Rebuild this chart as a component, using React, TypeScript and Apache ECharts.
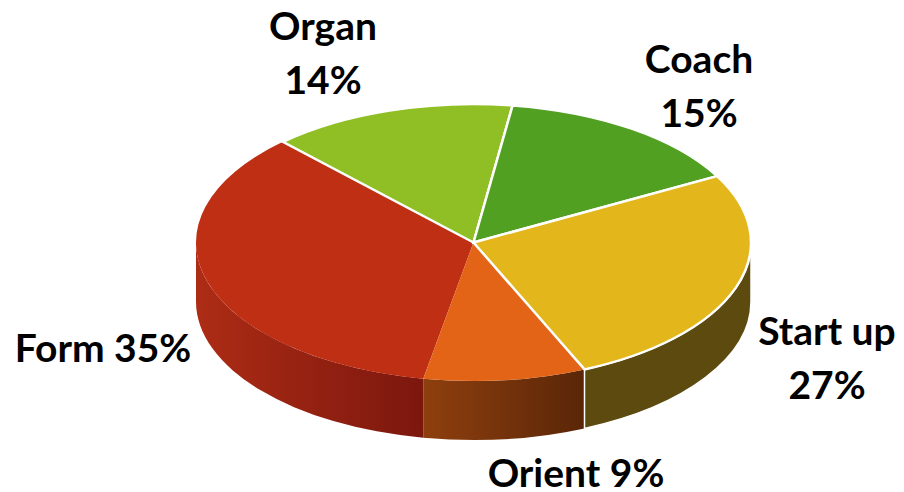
import React, { useEffect, useRef } from "react";
import * as echarts from "echarts";

// Clockwise from the Coach slice
const categories = ["Coach", "Start up", "Orient", "Form", "Organ"];
// Slice shares as measured on the picture (the printed labels are rounded differently)
const sliceShares = [14.8, 26.4, 9.45, 35.05, 14.3];
const labelPercents = [15, 27, 9, 35, 14];
const topColors = ["#52A022", "#E3B71C", "#E36417", "#BF2F14", "#8FBF24"];
const sideColors = [
  ["#3A7018", "#3A7018"],
  ["#5C4A0E", "#5C4A0E"],
  ["#8F3F0E", "#5A2608"],
  ["#AD2C15", "#7C170E"],
  ["#64851A", "#64851A"],
];
const outlined = [true, true, false, false, true];
const drawOrder = [3, 2, 4, 0, 1];

const FONT = "Lato, Carlito, Calibri, 'Open Sans', sans-serif";
const START_ANGLE = 8.1;
const CX = 473.5;
const CY = 242.5;
const RX = 277.5;
const RY = 138.5;
const DEPTH = 59;

const pt = (deg: number, dy = 0) => {
  const r = (deg * Math.PI) / 180;
  return [CX + RX * Math.sin(r), CY - RY * Math.cos(r) + dy];
};

function sliceRange(index: number) {
  const total = sliceShares.reduce((a, b) => a + b, 0);
  let a = START_ANGLE;
  for (let i = 0; i < index; i++) a += (sliceShares[i] / total) * 360;
  return [a, a + (sliceShares[index] / total) * 360];
}

function arcPath(a0: number, a1: number, dy: number, sweep: 0 | 1) {
  const [x, y] = pt(sweep ? a1 : a0, dy);
  const large = Math.abs(a1 - a0) > 180 ? 1 : 0;
  return `A ${RX} ${RY} 0 ${large} ${sweep} ${x} ${y}`;
}

function renderItem(params: any) {
  const i = params.dataIndex;
  const [a0, a1] = sliceRange(i);
  const order = drawOrder.indexOf(i);
  const children: any[] = [];

  const v0 = Math.max(a0, 90);
  const v1 = Math.min(a1, 270);
  if (v1 > v0) {
    const s = pt(v0);
    const e2 = pt(v1, DEPTH);
    children.push({
      type: "path",
      z2: 1 + order,
      shape: {
        pathData: `M ${s[0]} ${s[1]} ${arcPath(v0, v1, 0, 1)} L ${e2[0]} ${e2[1]} ${arcPath(v0, v1, DEPTH, 0)} Z`,
      },
      style: {
        fill: {
          type: "linear", x: 0, y: 0, x2: 1, y2: 0,
          colorStops: [
            { offset: 0, color: sideColors[i][0] },
            { offset: 1, color: sideColors[i][1] },
          ],
        },
        stroke: outlined[i] ? "#ffffff" : undefined,
        lineWidth: outlined[i] ? 1.5 : 0,
      },
    });
  }

  const p0 = pt(a0);
  children.push({
    type: "path",
    z2: 10 + order,
    shape: { pathData: `M ${CX} ${CY} L ${p0[0]} ${p0[1]} ${arcPath(a0, a1, 0, 1)} Z` },
    style: {
      fill: topColors[i],
      stroke: outlined[i] ? "#ffffff" : undefined,
      lineWidth: outlined[i] ? 2.5 : 0,
      lineJoin: "miter",
    },
  });
  return { type: "group", children };
}

const labelText = (i: number, sep: string) => `${categories[i]}${sep}${labelPercents[i]}%`;

const textEl = (text: string, x: number, y: number, lineHeight: number) => ({
  type: "text",
  x,
  y,
  z: 10,
  silent: true,
  style: {
    text,
    fill: "#000000",
    font: `bold 39px ${FONT}`,
    lineHeight,
    align: "center",
    verticalAlign: "middle",
  },
});

export default function App() {
  const ref = useRef<HTMLDivElement>(null);
  useEffect(() => {
    const chart = echarts.init(ref.current!, null, { renderer: "svg" });
    chart.setOption({
      animation: false,
      backgroundColor: "#ffffff",
      series: [
        {
          type: "custom",
          coordinateSystem: "none",
          silent: true,
          data: sliceShares.map((v, i) => ({ name: categories[i], value: [v] })),
          renderItem,
        },
      ],
      graphic: [
        textEl(labelText(4, "\n"), 323, 52, 54),
        textEl(labelText(0, "\n"), 699, 85, 54),
        textEl(labelText(1, "\n"), 827, 357, 54),
        textEl(labelText(3, " "), 103, 347, 32),
        textEl(labelText(2, " "), 576, 472, 32),
      ],
    });
    return () => chart.dispose();
  }, []);
  return (
    <div
      ref={ref}
      style={{ position: "fixed", left: 0, top: 0, width: 904, height: 492 }}
    />
  );
}
